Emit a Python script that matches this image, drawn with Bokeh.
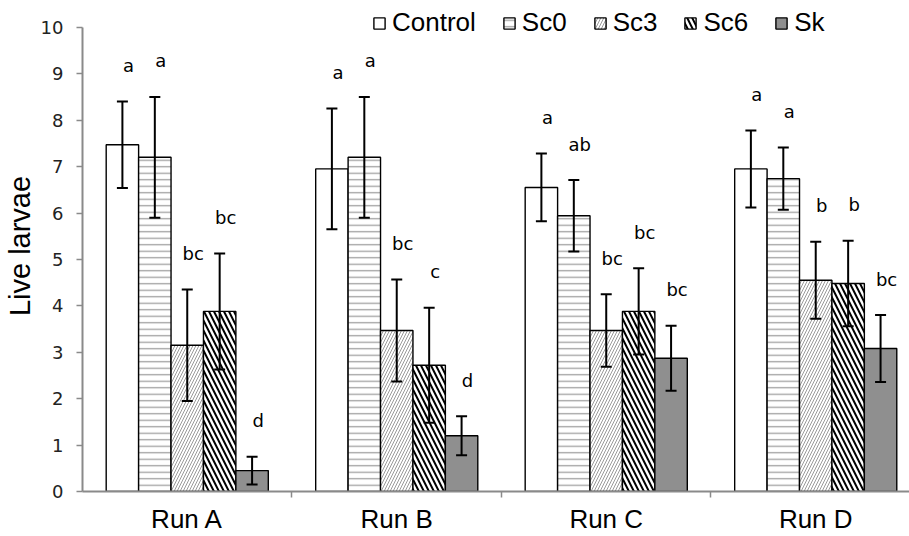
from bokeh.plotting import figure
from bokeh.models import (ColumnDataSource, Range1d, FixedTicker, Whisker, TeeHead,
                          Legend, LegendItem)
from bokeh.core.properties import value
from bokeh.embed import file_html
from bokeh.resources import INLINE

# ---- data ----
runs = ["Run A", "Run B", "Run C", "Run D"]
series = ["Control", "Sc0", "Sc3", "Sc6", "Sk"]

control_mean = [7.47, 6.95, 6.55, 6.95]
control_err = [0.93, 1.30, 0.73, 0.83]
sc0_mean = [7.20, 7.20, 5.94, 6.74]
sc0_err = [1.30, 1.30, 0.77, 0.67]
sc3_mean = [3.15, 3.47, 3.47, 4.55]
sc3_err = [1.20, 1.10, 0.78, 0.83]
sc6_mean = [3.88, 2.72, 3.88, 4.48]
sc6_err = [1.25, 1.24, 0.93, 0.92]
sk_mean = [0.45, 1.20, 2.87, 3.08]
sk_err = [0.30, 0.42, 0.70, 0.72]

control_letters = ["a", "a", "a", "a"]
sc0_letters = ["a", "a", "ab", "a"]
sc3_letters = ["bc", "bc", "bc", "b"]
sc6_letters = ["bc", "c", "bc", "b"]
sk_letters = ["d", "d", "bc", "bc"]

y_ticks = [0, 1, 2, 3, 4, 5, 6, 7, 8, 9, 10]

means = [control_mean, sc0_mean, sc3_mean, sc6_mean, sk_mean]
errs = [control_err, sc0_err, sc3_err, sc6_err, sk_err]
letters = [control_letters, sc0_letters, sc3_letters, sc6_letters, sk_letters]

# ---- styles ----
styles = [
    dict(fill_color="white"),
    dict(fill_color="white", hatch_pattern="horizontal_line", hatch_color="#a0a0a0",
         hatch_weight=1.3, hatch_scale=6.5),
    dict(fill_color="white", hatch_pattern="right_diagonal_line", hatch_color="#9a9a9a",
         hatch_weight=1.0, hatch_scale=6),
    dict(fill_color="white", hatch_pattern="left_diagonal_line", hatch_color="black",
         hatch_weight=2.0, hatch_scale=10),
    dict(fill_color="#8f8f8f"),
]

AX = "#8a8a8a"
bw = 32.5 / 210.0
px_per_unit = 46.7

p = figure(width=909, height=536, output_backend="svg", toolbar_location=None,
           x_range=Range1d(0, 829 / 210.0), y_range=Range1d(0, 494 / px_per_unit))
p.min_border = 0
p.min_border_left = 80
p.min_border_top = 0
p.min_border_bottom = 42
p.min_border_right = 0
p.outline_line_color = None
p.grid.visible = False
p.background_fill_color = "white"
p.border_fill_color = "white"

items = []
for j, name in enumerate(series):
    xs = [i + 0.5 + (j - 2) * bw for i in range(len(runs))]
    src = ColumnDataSource(dict(
        x=xs, top=means[j],
        upper=[m + e for m, e in zip(means[j], errs[j])],
        lower=[m - e for m, e in zip(means[j], errs[j])],
        letter=letters[j],
    ))
    r = p.vbar(x="x", top="top", bottom=0, width=bw, source=src,
               line_color="black", line_width=1.4, **styles[j])
    items.append(LegendItem(label=name, renderers=[r]))
    w = Whisker(source=src, base="x", upper="upper", lower="lower",
                line_color="black", line_width=2, level="overlay",
                upper_head=TeeHead(size=11, line_width=2, line_color="black"),
                lower_head=TeeHead(size=11, line_width=2, line_color="black"))
    p.add_layout(w)
    p.text(x="x", y="upper", text="letter", source=src, x_offset=6, y_offset=-36,
           text_align="center", text_baseline="middle",
           text_font=value("DejaVu Sans"), text_font_size="18px", text_color="black")

legend = Legend(items=items, orientation="horizontal", location=(290, 453),
                glyph_width=14, glyph_height=14, label_standoff=6, spacing=26,
                padding=0, margin=0, border_line_color=None, background_fill_alpha=0,
                label_text_font="Liberation Sans", label_text_font_size="26px",
                label_text_color="black")
p.add_layout(legend)

# x axis
p.xaxis.ticker = FixedTicker(ticks=[i + 0.5 for i in range(len(runs))],
                             minor_ticks=[1, 2, 3])
p.xaxis.major_label_overrides = {i + 0.5: r for i, r in enumerate(runs)}
p.xaxis.major_tick_line_color = None
p.xaxis.major_tick_out = 0
p.xaxis.major_tick_in = 0
p.xaxis.minor_tick_out = 6
p.xaxis.minor_tick_in = 0
p.xaxis.minor_tick_line_color = AX
p.xaxis.minor_tick_line_width = 1.5
p.xaxis.axis_line_color = AX
p.xaxis.axis_line_width = 2
p.xaxis.major_label_text_font = "Liberation Sans"
p.xaxis.major_label_text_font_size = "26px"
p.xaxis.major_label_text_color = "black"
p.xaxis.major_label_standoff = 6

# y axis
p.yaxis.bounds = (0, 10)
p.yaxis.ticker = FixedTicker(ticks=y_ticks, minor_ticks=[])
p.yaxis.axis_line_color = AX
p.yaxis.axis_line_width = 2
p.yaxis.major_tick_line_color = AX
p.yaxis.major_tick_line_width = 1.5
p.yaxis.major_tick_out = 6
p.yaxis.major_tick_in = 0
p.yaxis.minor_tick_line_color = None
p.yaxis.major_label_text_font = "DejaVu Sans"
p.yaxis.major_label_text_font_size = "18px"
p.yaxis.major_label_text_color = "#222222"
p.yaxis.major_label_standoff = 13
p.yaxis.axis_label = "Live larvae"
p.yaxis.axis_label_text_font = "Liberation Sans"
p.yaxis.axis_label_text_font_size = "29px"
p.yaxis.axis_label_text_font_style = "normal"
p.yaxis.axis_label_text_color = "black"
p.yaxis.axis_label_standoff = 2

open("out.html", "w").write(file_html(p, INLINE))
